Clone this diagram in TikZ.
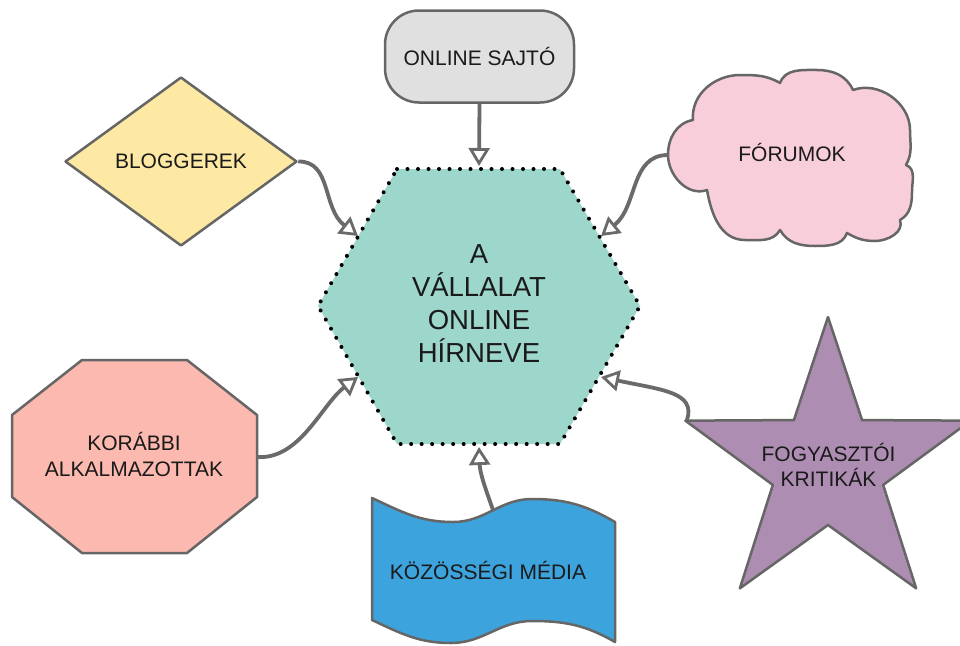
\documentclass[tikz,border=0pt]{standalone}
\usepackage{fontspec}
\setmainfont{Liberation Sans}
\usetikzlibrary{arrows.meta,shapes.geometric}

\definecolor{hubfill}{HTML}{9DD6CB}
\definecolor{pressfill}{HTML}{E0E0E0}
\definecolor{blogfill}{HTML}{FDE8A4}
\definecolor{forumfill}{HTML}{F8CEDB}
\definecolor{formerfill}{HTML}{FBB9AF}
\definecolor{reviewfill}{HTML}{AE8DB3}
\definecolor{mediafill}{HTML}{3CA3DD}
\definecolor{edgegray}{HTML}{666666}
\definecolor{arrowgray}{HTML}{6A6A6A}
\definecolor{ink}{HTML}{1A1A1A}

\tikzset{
  shapeline/.style={draw=edgegray, line width=2.5pt, line join=round},
  lbl/.style={font=\fontsize{21}{26}\selectfont, text=ink, align=center, inner sep=0pt},
  hublbl/.style={font=\fontsize{27.5}{33}\selectfont, text=ink, align=center, inner sep=0pt},
  link/.style={draw=arrowgray, line width=3.8pt,
    -{Triangle[open, length=18pt, width=21pt, line width=2.8pt]}},
  dotborder/.style={draw=black, line width=4pt, line cap=round,
    dash pattern=on 0pt off 10.5pt},
}

\begin{document}
\begin{tikzpicture}[x=1pt, y=1pt]
  \useasboundingbox (0,0) rectangle (960,-645);
  \clip (0,0) rectangle (960,-645);
  \fill[white] (0,0) rectangle (960,-645);

  % central hexagon
  \path[fill=hubfill] (397,-169) -- (560,-169) -- (640,-306) -- (560,-444)
        -- (397,-444) -- (318,-306) -- cycle;
  \path[dotborder] (397,-169) -- (560,-169) -- (640,-306) -- (560,-444)
        -- (397,-444) -- (318,-306) -- cycle;
  \node[hublbl] (hub) at (479,-304) {A\\VÁLLALAT\\ONLINE\\HÍRNEVE};
  \coordinate (hubT)  at (479,-166);
  \coordinate (hubB)  at (479,-447);
  \coordinate (hubUL) at (358,-236);
  \coordinate (hubUR) at (601,-236);
  \coordinate (hubLL) at (358,-377);
  \coordinate (hubLR) at (601,-377);

  % online press
  \node[shapeline, fill=pressfill, rounded corners=34pt, minimum width=189pt,
        minimum height=92pt, lbl] (press) at (479.5,-56.5) {ONLINE SAJTÓ};

  % bloggers
  \node[shapeline, fill=blogfill, diamond, aspect=1.37, minimum width=232pt,
        minimum height=169pt, lbl] (blog) at (181,-161.5) {BLOGGEREK};

  % forums cloud
  \path[shapeline, fill=forumfill]
    (693,-120) to[out=95,in=180] (740,-75) to[out=0,in=150] (780,-83)
    to[out=70,in=180] (817,-70) to[out=0,in=115] (853,-90)
    to[out=20,in=90] (910,-130) to[out=-90,in=60] (906,-165)
    to[out=-20,in=90] (912,-192) to[out=-90,in=30] (900,-220)
    to[out=-70,in=0] (875,-241) to[out=180,in=-30] (847,-233)
    to[out=-110,in=0] (815,-246) to[out=180,in=-60] (780,-230)
    to[out=-120,in=0] (745,-240) to[out=180,in=-80] (707,-190)
    to[out=200,in=-90] (668,-155) to[out=90,in=190] (693,-120) -- cycle;
  \node[lbl] (forums) at (792,-152) {FÓRUMOK};
  \coordinate (forumsL) at (668,-155);

  % former employees octagon
  \path[shapeline, fill=formerfill]
    (82,-360) -- (187,-360) -- (257,-415) -- (257,-497) -- (187,-553)
    -- (82,-553) -- (12,-497) -- (12,-415) -- cycle;
  \node[lbl] (former) at (134,-454) {KORÁBBI\\ALKALMAZOTTAK};
  \coordinate (formerR) at (257,-457);

  % consumer reviews star
  \begin{scope}[shift={(828,-467)}]
    \path[shapeline, fill=reviewfill]
      (90:150) -- (126:58) -- (162:150) -- (198:58) -- (234:150) -- (270:58)
      -- (306:150) -- (342:58) -- (18:150) -- (54:58) -- cycle;
  \end{scope}
  \node[lbl, font=\fontsize{21}{25}\selectfont] (reviews) at (828.5,-464.5) {FOGYASZTÓI\\KRITIKÁK};
  \coordinate (reviewsL) at (687,-420);

  % social media banner
  \path[shapeline, fill=mediafill]
    (372,-498) to[out=-25,in=180] (453,-522) to[out=0,in=180] (532,-499)
    to[out=0,in=150] (615,-522) -- (615,-642)
    to[out=150,in=0] (532,-621) to[out=180,in=0] (451,-643)
    to[out=180,in=-25] (372,-620) -- cycle;
  \node[lbl] (media) at (488,-570) {KÖZÖSSÉGI MÉDIA};
  \coordinate (mediaT) at (493,-510);

  % connectors
  \draw[link] (press.south) -- (hubT);
  \draw[link] (blog.east) .. controls (332,-161) and (322,-208) .. (hubUL);
  \draw[link] (forumsL) .. controls (630,-155) and (638,-206) .. (hubUR);
  \draw[link] (formerR) .. controls (300,-460) and (322,-404) .. (hubLL);
  \draw[link] (reviewsL) .. controls (696,-392) and (662,-390) .. (hubLR);
  \draw[link] (mediaT) .. controls (486,-490) and (480,-474) .. (hubB);
\end{tikzpicture}
\end{document}
